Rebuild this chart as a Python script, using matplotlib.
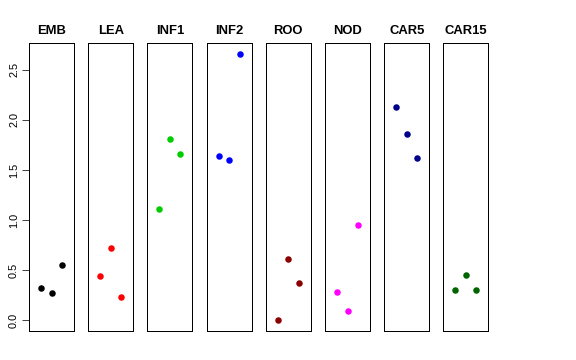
import matplotlib
matplotlib.use('Agg')
from matplotlib import pyplot as plt

plt.rcParams['font.family'] = ['Liberation Sans', 'DejaVu Sans']

tissues = ['EMB', 'LEA', 'INF1', 'INF2', 'ROO', 'NOD', 'CAR5', 'CAR15']
colors = ['black', 'red', '#00CD00', 'blue', '#8B0000', 'magenta', '#00008B', '#006400']
reps = [1, 2, 3]
values = [
    [0.32, 0.27, 0.55],
    [0.44, 0.72, 0.23],
    [1.11, 1.81, 1.66],
    [1.64, 1.60, 2.66],
    [0.00, 0.61, 0.37],
    [0.28, 0.09, 0.95],
    [2.13, 1.86, 1.62],
    [0.30, 0.45, 0.30],
]
yticks = [0.0, 0.5, 1.0, 1.5, 2.0, 2.5]

W, H = 576, 360
fig = plt.figure(figsize=(W / 72, H / 72), dpi=72)

left0, step, width = 29, 59.2, 45
top, bottom = 43, 331
ymax = max(max(v) for v in values)
ymin = min(min(v) for v in values)
pad = 0.04 * (ymax - ymin)

for i, (name, col, vals) in enumerate(zip(tissues, colors, values)):
    ax = fig.add_axes([(left0 + i * step) / W, (H - bottom) / H, width / W, (bottom - top) / H])
    ax.plot(reps, vals, 'o', color=col, markersize=6.5, markeredgewidth=0)
    ax.set_xlim(0 - 0.16, 4 + 0.16)
    ax.set_ylim(ymin - pad, ymax + pad)
    ax.set_xticks([])
    for s in ax.spines.values():
        s.set_linewidth(1.0)
        s.set_color('black')
    ax.set_title(name, fontsize=13, fontweight='bold', pad=9)
    if i == 0:
        ax.set_yticks(yticks)
        ax.set_yticklabels([f'{t:.1f}' for t in yticks], rotation=90, va='center', fontsize=11)
        ax.tick_params(axis='y', length=7, width=1, pad=3, color='#444444')
    else:
        ax.set_yticks([])

fig.savefig('out.png', dpi=72)
